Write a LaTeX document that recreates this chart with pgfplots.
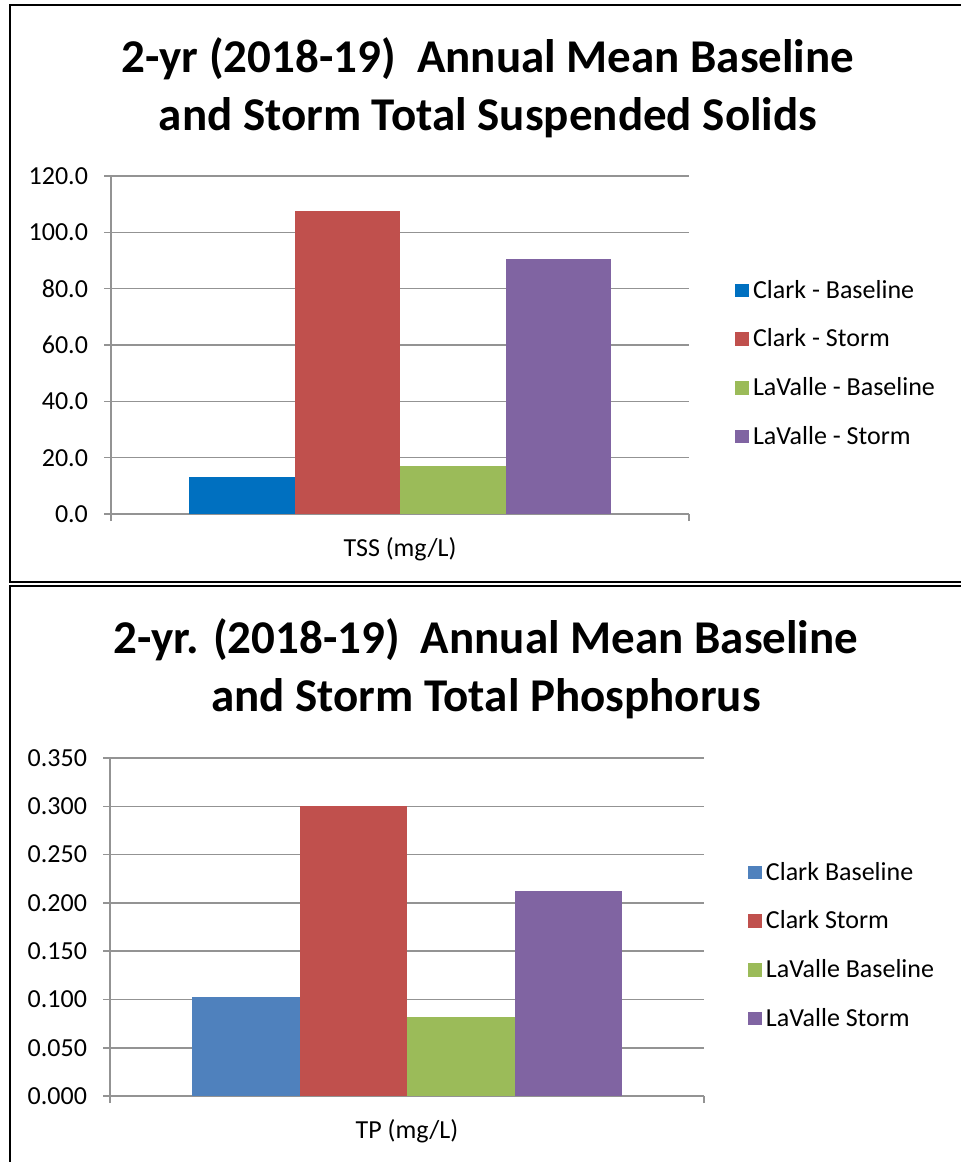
\documentclass[border=0pt]{standalone}
\usepackage{pgfplots}
\pgfplotsset{compat=1.18}
\usepackage{fontspec}
\setmainfont{Carlito}
\definecolor{cblue}{HTML}{0070C0}
\definecolor{cbluetwo}{HTML}{4F81BD}
\definecolor{cred}{HTML}{C0504D}
\definecolor{cgreen}{HTML}{9BBB59}
\definecolor{cpurple}{HTML}{8064A2}
\definecolor{gridc}{HTML}{939393}

\pgfplotsset{
  excelbar/.style={
    scale only axis,
    ybar=0pt,
    xmin=-0.5, xmax=0.5,
    ymin=0,
    axis x line*=bottom, axis y line*=left,
    axis line style={draw=gridc, line width=0.8pt},
    ymajorgrids, grid style={draw=gridc, line width=0.8pt},
    tick style={draw=gridc, line width=0.8pt},
    tick align=outside, major tick length=3.5pt,
    xtick={-0.5,0.5}, xticklabels={},
    xlabel style={at={(axis description cs:0.5,0)}, anchor=center, yshift=-17.5pt, font=\fontsize{13}{15.6}\selectfont},
    tick label style={font=\fontsize{13}{15.6}\selectfont, text=black},
    yticklabel style={xshift=-4.5pt},
    /pgf/number format/assume math mode=true,
    legend cell align=left,
    legend style={draw=none, fill=none, inner sep=0pt, font=\fontsize{13}{15.6}\selectfont, anchor=west, row sep=9.8pt},
    legend image code/.code={\fill[##1] (0pt,-3.4pt) rectangle (6.8pt,3.4pt);},
    enlarge x limits=false,
  }
}

\begin{document}
\begin{tikzpicture}
\path[use as bounding box] (0pt,0pt) rectangle (480pt,-581pt);
% frames
\draw[line width=1pt, black] (481pt,-2.5pt) -- (5pt,-2.5pt) -- (5pt,-290.8pt) -- (481pt,-290.8pt);
\draw[line width=1pt, black] (481pt,-293pt) -- (5pt,-293pt) -- (5pt,-582pt);

% titles
\node[anchor=base, font=\bfseries\fontsize{23.5}{28}\selectfont] at (244pt,-36pt) {2-yr (2018-19)\ \ Annual Mean Baseline};
\node[anchor=base, font=\bfseries\fontsize{23.5}{28}\selectfont] at (244pt,-65pt) {and Storm Total Suspended Solids};
\node[anchor=base, font=\bfseries\fontsize{23.5}{28}\selectfont] at (243pt,-326.8pt) {2-yr. (2018-19)\ \ Annual Mean Baseline};
\node[anchor=base, font=\bfseries\fontsize{23.5}{28}\selectfont] at (243pt,-355.8pt) {and Storm Total Phosphorus};

\begin{axis}[excelbar,
  at={(55.5pt,-257pt)}, anchor=south west,
  width=289pt, height=169pt,
  bar width=52.75pt,
  ymax=120, ytick={0,20,40,60,80,100,120},
  yticklabel style={/pgf/number format/.cd, fixed, fixed zerofill, precision=1},
  xlabel={TSS (mg/L)},
  legend style={at={(axis description cs:1.0796,0.4453)}},
]
\addplot[fill=cblue, draw=none] coordinates {(0,13.0)};
\addplot[fill=cred, draw=none] coordinates {(0,107.4)};
\addplot[fill=cgreen, draw=none] coordinates {(0,17.2)};
\addplot[fill=cpurple, draw=none] coordinates {(0,90.4)};
\legend{Clark - Baseline, Clark - Storm, LaValle - Baseline, LaValle - Storm}
\end{axis}

\begin{axis}[excelbar,
  at={(55pt,-548pt)}, anchor=south west,
  width=297pt, height=169pt,
  bar width=53.75pt,
  ymax=0.35, ytick={0,0.05,0.1,0.15,0.2,0.25,0.3,0.35},
  yticklabel style={/pgf/number format/.cd, fixed, fixed zerofill, precision=3},
  xlabel={TP (mg/L)},
  legend style={at={(axis description cs:1.074,0.4453)}},
]
\addplot[fill=cbluetwo, draw=none] coordinates {(0,0.103)};
\addplot[fill=cred, draw=none] coordinates {(0,0.300)};
\addplot[fill=cgreen, draw=none] coordinates {(0,0.082)};
\addplot[fill=cpurple, draw=none] coordinates {(0,0.212)};
\legend{Clark Baseline, Clark Storm, LaValle Baseline, LaValle Storm}
\end{axis}
\end{tikzpicture}
\end{document}
